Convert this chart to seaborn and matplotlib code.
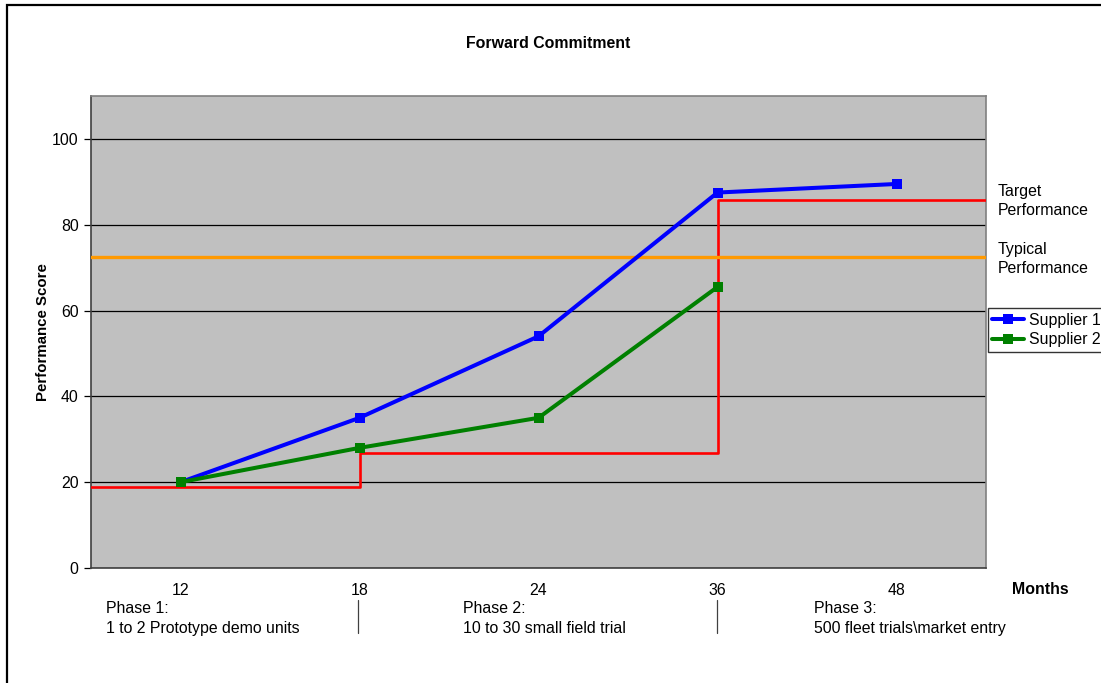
import numpy as np
import pandas as pd
import matplotlib
matplotlib.use("Agg")
import matplotlib.pyplot as plt
import seaborn as sns
from matplotlib.patches import Rectangle

# ==============================
# DATI
# ==============================
months = ["12", "18", "24", "36", "48"]
supplier1 = [20, 35, 54, 87.5, 89.5]
supplier2 = [20, 28, 35, 65.5, None]

# target performance: livelli per fase, gradini ai mesi 18 e 36
target_steps = ["18", "36"]
target_levels = [18.9, 26.9, 85.7]
typical_level = 72.4

phase_texts = [
    "Phase 1:\n1 to 2 Prototype demo units",
    "Phase 2:\n10 to 30 small field trial",
    "Phase 3:\n500 fleet trials\\market entry",
]

rows = []
for name, vals in [("Supplier 1", supplier1), ("Supplier 2", supplier2)]:
    for i, (m, v) in enumerate(zip(months, vals)):
        if v is not None:
            rows.append({"Month": m, "pos": i, "Score": v, "Supplier": name})
df = pd.DataFrame(rows)

# ==============================
# FIGURA
# ==============================
sns.set_style("white")
plt.rcParams["font.family"] = ["Liberation Sans", "DejaVu Sans"]
plt.rcParams["text.color"] = "black"
plt.rcParams["axes.labelcolor"] = "black"
plt.rcParams["xtick.color"] = "black"
plt.rcParams["ytick.color"] = "black"

FS = 11.4

fig = plt.figure(figsize=(11.01, 6.83), dpi=100)
ax = fig.add_axes([91 / 1101, 1 - 568 / 683, (986 - 91) / 1101, (568 - 96) / 683])
ax.set_facecolor("#C0C0C0")

xmin, xmax = -0.5, len(months) - 0.5

# linee target / typical
step_x = [xmin] + [months.index(s) for s in target_steps] + [xmax]
step_y = target_levels + [target_levels[-1]]
ax.plot(step_x, step_y, drawstyle="steps-post", color="#FF0000", lw=1.9, zorder=3)
ax.axhline(typical_level, color="#FF9900", lw=2.4, zorder=3)

sns.lineplot(
    data=df, x="pos", y="Score", hue="Supplier",
    palette={"Supplier 1": "#0000FF", "Supplier 2": "#008000"},
    marker="s", markersize=7, markeredgewidth=0, lw=2.9,
    sort=False, ax=ax, zorder=4,
)

ax.set_xlim(xmin, xmax)
ax.set_ylim(0, 110)
ax.set_yticks([0, 20, 40, 60, 80, 100])
ax.yaxis.grid(True, color="black", lw=0.9)
ax.set_axisbelow(True)

ax.set_xticks(range(len(months)))
ax.set_xticklabels(months, fontsize=FS)
ax.set_xticks(np.arange(xmin, xmax + 0.01, 1), minor=True)
ax.tick_params(axis="x", which="major", length=0, pad=11)
ax.tick_params(axis="x", which="minor", length=5, direction="out", color="black", width=0.9)
ax.tick_params(axis="y", length=5, direction="out", left=True, color="black",
               width=0.9, labelsize=FS, pad=4)

for side in ["top", "right"]:
    ax.spines[side].set_color("#808080")
    ax.spines[side].set_linewidth(1.2)
for side in ["left", "bottom"]:
    ax.spines[side].set_color("#404040")
    ax.spines[side].set_linewidth(1.2)

ax.set_xlabel("")
ax.set_ylabel("Performance Score", fontsize=FS - 0.6, fontweight="bold", labelpad=1)

fig.text(548 / 1101, 1 - 43 / 683, "Forward Commitment", ha="center", va="center",
         fontsize=FS, fontweight="bold")

# legenda
handles, labels = ax.get_legend_handles_labels()
leg = ax.legend(handles, labels, loc="center left", bbox_to_anchor=(1.0, 0.504),
                frameon=True, fontsize=FS, handlelength=2.0, handletextpad=0.3,
                borderpad=0.3, labelspacing=0.3, borderaxespad=0.1, fancybox=False)
leg.get_frame().set_edgecolor("black")
leg.get_frame().set_linewidth(1.0)

# etichette a destra
fig.text(998 / 1101, 1 - 201 / 683, "Target\nPerformance", ha="left", va="center",
         fontsize=FS, linespacing=1.3)
fig.text(998 / 1101, 1 - 259 / 683, "Typical\nPerformance", ha="left", va="center",
         fontsize=FS, linespacing=1.3)
fig.text(1040 / 1101, 1 - 589 / 683, "Months", ha="center", va="center",
         fontsize=FS, fontweight="bold")

# fasi sotto l'asse
for xp, txt in zip([106, 463, 814], phase_texts):
    fig.text(xp / 1101, 1 - 601 / 683, txt, ha="left", va="top", fontsize=FS,
             linespacing=1.45)
for xp in [358, 717]:
    fig.add_artist(plt.Line2D([xp / 1101, xp / 1101], [1 - 600 / 683, 1 - 633 / 683],
                              color="#404040", lw=0.9))

# bordo figura
fig.add_artist(Rectangle((7 / 1101, -0.05), 1.1, 1 - 5.5 / 683 + 0.05,
                         transform=fig.transFigure, fill=False,
                         edgecolor="black", lw=1.6))

fig.savefig("out.png", dpi=100)
